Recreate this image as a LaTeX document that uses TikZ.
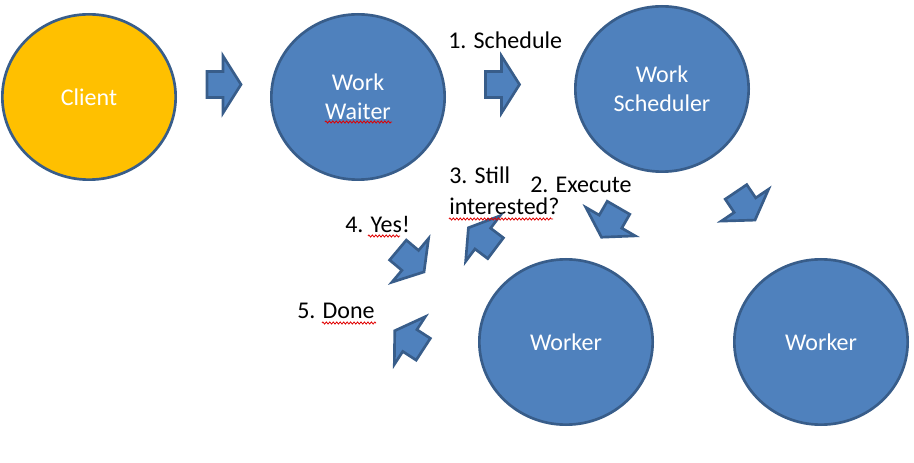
\documentclass[tikz,border=0pt]{standalone}
\usepackage{fontspec}
\setmainfont{Carlito}
\usetikzlibrary{shapes.geometric,decorations.pathmorphing}
\definecolor{officeblue}{HTML}{4F81BD}
\definecolor{officeline}{HTML}{385D8A}
\definecolor{clientgold}{HTML}{FFC000}
\definecolor{spellred}{HTML}{E00000}

\tikzset{
  proc/.style={ellipse,draw=officeline,line width=2pt,fill=officeblue,text=white,
    minimum width=130pt,minimum height=124pt,inner sep=0pt,align=center},
  lbl/.style={inner sep=0pt,anchor=base west},
  spell/.style={spellred,line width=0.6pt,decorate,
    decoration={zigzag,segment length=2.6pt,amplitude=0.8pt}},
  pics/blockarrow/.style={code={
    \draw[fill=officeblue,draw=officeline,line width=2pt]
      (-17,-13) -- (-1,-13) -- (-1,-28.5) -- (17,0) -- (-1,28.5) -- (-1,13) -- (-17,13) -- cycle;}},
}

\begin{document}
\begin{tikzpicture}[x=0.75pt,y=-0.75pt,font=\fontsize{18}{22}\selectfont]
  \useasboundingbox (0,0) rectangle (914,463);
  % circles
  \node[proc,fill=clientgold] (client) at (89,97) {Client};
  \node[proc] (waiter) at (358,97) {Work\\Waiter};
  \node[proc] (scheduler) at (662,89) {Work\\Scheduler};
  \node[proc] (worker) at (566,342) {Worker};
  \node[proc] (workerb) at (821,342) {Worker};
  % labels
  \node[lbl] (schedule) at (448,49) {1. Schedule};
  \node[lbl] (still) at (449,184) {3. Still};
  \node[lbl] (interested) at (449,215) {interested?};
  \node[lbl] (execute) at (530,193) {2. Execute};
  \node[lbl] (yes) at (345,233) {4. Yes!};
  \node[lbl] (done) at (297,319) {5. Done};
  % block arrows
  \pic at (224,84.5) {blockarrow};
  \pic at (502.5,84.5) {blockarrow};
  \pic[rotate=-120] at (610,222.5) {blockarrow};
  \pic[rotate=-56] at (745.5,206) {blockarrow};
  \pic[rotate=143] at (482,238) {blockarrow};
  \pic[rotate=-40] at (411,261) {blockarrow};
  \pic[rotate=147] at (409,340) {blockarrow};
  % spell check marks
  \draw[spell] (325,122) -- (392,122);
  \draw[spell] (449,219) -- (553,219);
  \draw[spell] (368,236) -- (400,236);
  \draw[spell] (322,323) -- (376,323);
\end{tikzpicture}
\end{document}
